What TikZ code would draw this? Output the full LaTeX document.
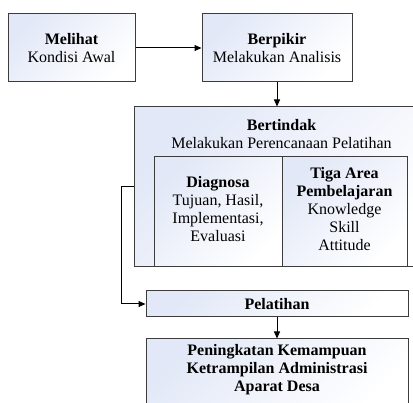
\documentclass[tikz,border=0pt]{standalone}
\usepackage{fontspec}
\setmainfont{Liberation Serif}
\usetikzlibrary{arrows.meta}
\definecolor{boxblue}{RGB}{226,232,247}
\definecolor{boxedge}{RGB}{60,60,60}
\tikzset{
  box/.style={draw=boxedge, line width=1pt, top color=boxblue, bottom color=white, shading angle=45,
    inner sep=0pt, align=center, font=\fontsize{16}{18}\selectfont},
  txt/.style={inner sep=0pt, align=center, font=\fontsize{16}{18}\selectfont},
  arr/.style={draw=black, line width=1pt, -{Triangle[length=7pt,width=6pt]}}
}
\begin{document}
\begin{tikzpicture}[x=1pt,y=-1pt]
\useasboundingbox (0,0) rectangle (413,403);
\clip (0,0) rectangle (413,403);
\node[box, minimum width=127pt, minimum height=68pt] (mel) at (71.5,48) {\textbf{Melihat}\\Kondisi Awal};
\node[box, minimum width=150pt, minimum height=68pt] (ber) at (277,48) {\textbf{Berpikir}\\Melakukan Analisis};
\node[box, minimum width=295pt, minimum height=160pt] (tin) at (281.5,187) {};
\node[txt] (tintext) at (281.5,134) {\textbf{Bertindak}\\Melakukan Perencanaan Pelatihan};
\node[box, minimum width=128pt, minimum height=110pt] (diag) at (218,212) {};
\node[txt] (diagtext) at (218,209.5) {\textbf{Diagnosa}\\Tujuan, Hasil,\\Implementasi,\\Evaluasi};
\node[box, minimum width=125pt, minimum height=110pt] (tiga) at (344.5,212) {};
\node[txt] (tigatext) at (344.5,209.5) {\textbf{Tiga Area}\\\textbf{Pembelajaran}\\Knowledge\\Skill\\Attitude};
\node[box, minimum width=262pt, minimum height=26pt] (pel) at (277,304) {\textbf{Pelatihan}};
\node[box, minimum width=262pt, minimum height=72pt] (fin) at (277,375) {};
\node[txt, font=\fontsize{16}{18}\selectfont\bfseries] (fintext) at (277,370) {Peningkatan Kemampuan\\Ketrampilan Administrasi\\Aparat Desa};
\draw[arr] (mel.east) -- (ber.west);
\draw[arr] (ber.south) -- (ber.south |- tin.north);
\draw[arr] (tin.west) -- ++(-12,0) |- (pel.west);
\draw[arr] (pel.south) -- (fin.north);
\end{tikzpicture}
\end{document}
